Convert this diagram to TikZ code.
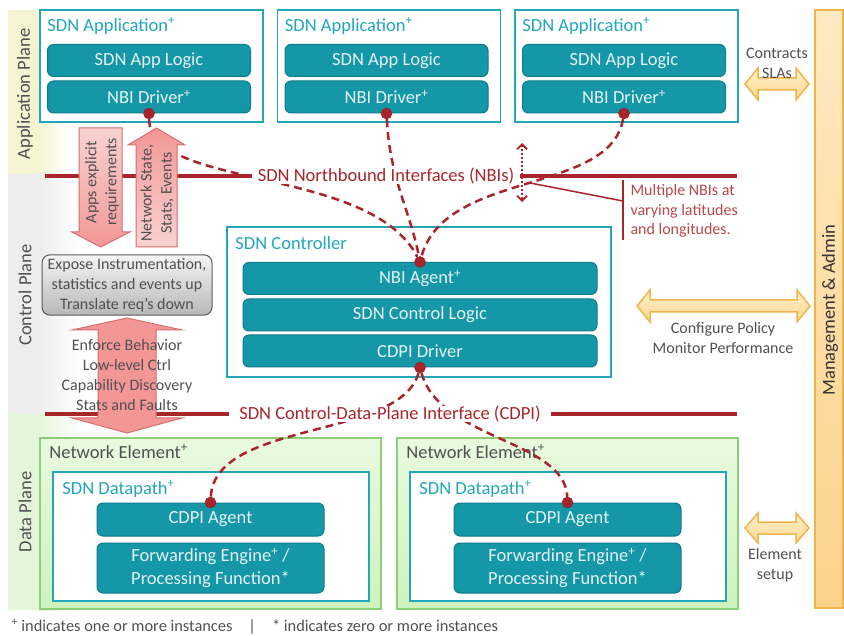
\documentclass[tikz,border=0pt]{standalone}
\usepackage{fontspec}
\setmainfont{Carlito}
\usepackage{xcolor}
\usepackage{tikz}
\usetikzlibrary{positioning,arrows.meta}

\definecolor{tealline}{HTML}{22A7BA}
\definecolor{tealfill}{HTML}{1597A8}
\definecolor{tealdark}{HTML}{0E7C8B}
\definecolor{tealtext}{HTML}{E2F3F6}
\definecolor{ifred}{HTML}{A8262B}
\definecolor{notered}{HTML}{B8484B}
\definecolor{pinkA}{HTML}{F9D2D2}
\definecolor{pinkB}{HTML}{F29696}
\definecolor{pinkline}{HTML}{D96C6C}
\definecolor{orA}{HTML}{FEF0CC}
\definecolor{orB}{HTML}{FCD890}
\definecolor{orline}{HTML}{F0B54A}
\definecolor{mgmtA}{HTML}{FDE9C2}
\definecolor{mgmtB}{HTML}{FCD28A}
\definecolor{neA}{HTML}{E9FADF}
\definecolor{neB}{HTML}{CDF2BD}
\definecolor{neline}{HTML}{8DCF78}
\definecolor{bandA}{HTML}{F5F4D2}
\definecolor{bandC}{HTML}{EDEDED}
\definecolor{bandD}{HTML}{E4F6DA}
\definecolor{greytext}{HTML}{505050}

\begin{document}
\begin{tikzpicture}[x=1pt, y=-1pt,
    every node/.style={font=\fontsize{18.5}{21}\selectfont},
    app/.style={draw=tealline, line width=1.5pt, fill=white, minimum width=223pt, minimum height=112pt},
    layer/.style={draw=tealdark, fill=tealfill, rounded corners=6pt, line width=1pt, text=tealtext, minimum width=#1, minimum height=32pt, inner sep=0pt, align=center},
    title/.style={anchor=base west, inner sep=0pt, text=tealline},
    nebox/.style={draw=neline, line width=1.5pt, top color=neA, bottom color=neB, minimum width=341pt, minimum height=171pt},
    dpbox/.style={draw=tealline, line width=1.5pt, fill=white, minimum width=316pt, minimum height=129pt},
    iface/.style={draw=ifred, line width=3.5pt},
    link/.style={draw=ifred, line width=2.5pt, dash pattern=on 8pt off 5pt},
    dot/.style={circle, fill=ifred, draw=ifred!80!black, minimum size=11pt, inner sep=0pt},
    fat/.style={draw=pinkline, line width=1pt},
    wide/.style={draw=orline, line width=1.5pt, top color=orA, bottom color=orB},
    note/.style={text=greytext, align=center, font=\fontsize{16}{20}\selectfont},
    plane/.style={rotate=90, text=greytext}]

    \useasboundingbox (0,0) rectangle (844,636);

    % plane bands
    \fill[bandA] (8,10) rectangle (38,174);
    \shade[left color=bandA, right color=white] (38,10) rectangle (70,174);
    \fill[bandC] (8,174) rectangle (38,414);
    \shade[left color=bandC, right color=white] (38,174) rectangle (80,414);
    \fill[bandD] (8,414) rectangle (38,610);
    \shade[left color=bandD, right color=white] (38,414) rectangle (80,610);
    \node[plane] (apl) at (25,94) {Application Plane};
    \node[plane] (cpl) at (25,295) {Control Plane};
    \node[plane] (dpl) at (25,512) {Data Plane};

    % applications
    \foreach \x/\n in {151.5/1, 389/2, 626.5/3} {
        \node[app] (app\n) at (\x,66) {};
        \node[title] at ([xshift=8pt, yshift=-22pt]app\n.north west) {SDN Application\textsuperscript{+}};
        \node[layer=203pt] (logic\n) at (\x-2.5,60.5) {SDN App Logic};
        \node[layer=203pt] (drv\n) at (\x-2.5,97) {NBI Driver\textsuperscript{+}};
        \node[dot] (d\n) at (drv\n.south) {};
    }

    % controller
    \node[app, minimum width=384pt, minimum height=150pt] (ctrl) at (419,302) {};
    \node[title] at ([xshift=9pt, yshift=-23pt]ctrl.north west) {SDN Controller};
    \node[layer=354pt] (agent) at (420,278.5) {NBI Agent\textsuperscript{+}};
    \node[layer=354pt] (clogic) at (420,315) {SDN Control Logic};
    \node[layer=354pt] (cdrv) at (420,351) {CDPI Driver};
    \node[dot] (ad) at (agent.north) {};
    \node[dot] (cd) at (cdrv.south) {};

    % network elements
    \foreach \x/\n in {210.5/1, 567.5/2} {
        \node[nebox] (ne\n) at (\x,523.5) {};
        \node[title, text=greytext] at ([xshift=10pt, yshift=-21pt]ne\n.north west) {Network Element\textsuperscript{+}};
        \node[dpbox] (dp\n) at (\x+0.5,536.5) {};
        \node[title] at ([xshift=10pt, yshift=-23pt]dp\n.north west) {SDN Datapath\textsuperscript{+}};
        \node[layer=227pt, minimum height=33pt] (ag\n) at (\x,519.5) {CDPI Agent};
        \node[layer=227pt, minimum height=50pt, font=\fontsize{18.5}{23}\selectfont] (fw\n) at (\x,568) {Forwarding Engine\textsuperscript{+} /\\Processing Function*};
        \node[dot] (ed\n) at (ag\n.north) {};
    }

    % management
    \node[draw=orline, line width=1.2pt, top color=mgmtA, bottom color=mgmtB, minimum width=28pt, minimum height=598pt] (mgmt) at (829,309) {};
    \node[rotate=90, text=black!80] (mlab) at (830,310) {Management \& Admin};

    % interface curves
    \draw[link] (d1) .. controls (150,190) and (370,165) .. (ad);
    \draw[link] (d2) .. controls (390,180) and (410,210) .. (ad);
    \draw[link] (d3) .. controls (610,195) and (445,170) .. (ad);
    \draw[link] (cd) .. controls (400,440) and (215,420) .. (ed1);
    \draw[link] (cd) .. controls (440,440) and (565,440) .. (ed2);

    % interface lines
    \node[text=ifred, fill=white, inner xsep=6pt, inner ysep=0pt] (nbi) at (386,176) {SDN Northbound Interfaces (NBIs)};
    \coordinate (nbiL) at (45,176);
    \coordinate (nbiR) at (737,176);
    \draw[iface] (nbiL) -- (nbi);
    \draw[iface] (nbi) -- (nbiR);
    \node[text=ifred, fill=white, inner xsep=10pt, inner ysep=0pt] (cdpi) at (390,414) {SDN Control-Data-Plane Interface (CDPI)};
    \coordinate (cdpiL) at (45,414);
    \coordinate (cdpiR) at (737,414);
    \draw[iface] (cdpiL) -- (cdpi);
    \draw[iface] (cdpi) -- (cdpiR);

    % multiple NBIs
    \coordinate (vT) at (522,143);
    \coordinate (vB) at (522,202);
    \draw[ifred, line width=1.8pt, dash pattern=on 2pt off 2pt, {Straight Barb[length=5pt,width=10pt]}-{Straight Barb[length=5pt,width=10pt]}] (vT) -- (vB);
    \coordinate (cA) at (530,183);
    \coordinate (cB) at (623,201);
    \coordinate (bT) at (623,180);
    \coordinate (bB) at (623,240);
    \draw[ifred, line width=1.5pt] (cA) -- (cB);
    \draw[ifred, line width=1.5pt] (bT) -- (bB);
    \node[text=notered, anchor=west, align=left, font=\fontsize{16}{19.5}\selectfont] (multi) at (627,211) {Multiple NBIs at\\varying latitudes\\and longitudes.};

    % left side arrows
    \draw[fat, top color=pinkA, bottom color=pinkB] (79,128) -- (122,128) -- (122,232) -- (130,232) -- (100.5,247) -- (72,232) -- (79,232) -- cycle;
    \draw[fat, top color=pinkB, bottom color=pinkA] (136,247) -- (177,247) -- (177,145) -- (185,145) -- (156.5,128) -- (128,145) -- (136,145) -- cycle;
    \node[note, rotate=90] (req) at (102,182) {Apps explicit\\requirements};
    \node[note, rotate=90] (state) at (157,193) {Network State,\\Stats, Events};

    \node[rounded corners=8pt, draw=black!65, line width=1pt, top color=black!4, bottom color=black!28, minimum width=170pt, minimum height=60pt, note] (expose) at (127,285) {Expose Instrumentation,\\statistics and events up\\Translate req’s down};

    \draw[fat, top color=pinkB, middle color=pinkA, bottom color=pinkB] (98,330) -- (72,330) -- (127,318) -- (182,330) -- (156,330) -- (156,418) -- (182,418) -- (127,433) -- (72,418) -- (98,418) -- cycle;
    \node[note] (enf) at (127,375) {Enforce Behavior\\Low-level Ctrl\\Capability Discovery\\Stats and Faults};

    % management arrows
    \draw[wide] (745,84) -- (758,68) -- (758,78) -- (796,78) -- (796,68) -- (809,84) -- (796,100) -- (796,90) -- (758,90) -- (758,100) -- cycle;
    \draw[wide] (637,306) -- (650,290) -- (650,300) -- (797,300) -- (797,290) -- (810,306) -- (797,322) -- (797,312) -- (650,312) -- (650,322) -- cycle;
    \draw[wide] (745,528) -- (758,513) -- (758,522) -- (796,522) -- (796,513) -- (809,528) -- (796,543) -- (796,534) -- (758,534) -- (758,543) -- cycle;
    \node[note] (sla) at (777,63) {Contracts\\SLAs};
    \node[note, font=\fontsize{16}{19.5}\selectfont] (conf) at (723,338) {Configure Policy\\Monitor Performance};
    \node[note] (elem) at (775,565) {Element\\setup};

    \node[anchor=west, text=greytext, font=\fontsize{16.4}{19}\selectfont] (foot) at (8,627) {\textsuperscript{+} indicates one or more instances\hspace{16pt}|\hspace{16pt}* indicates zero or more instances};
\end{tikzpicture}
\end{document}
